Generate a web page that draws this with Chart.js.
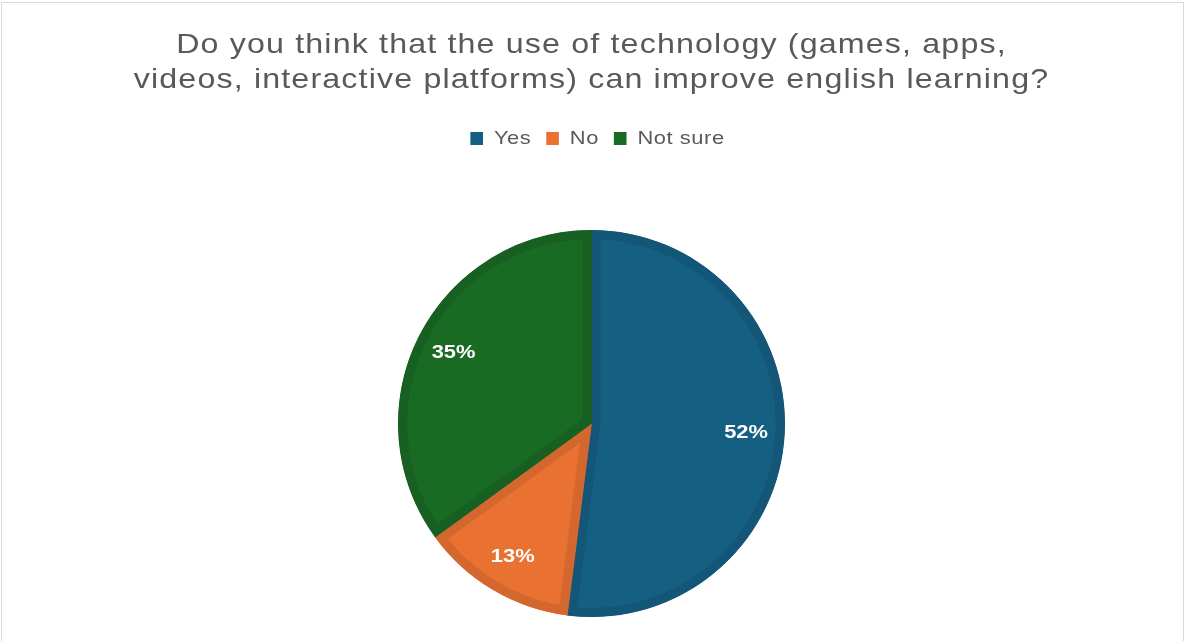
<!DOCTYPE html>
<html>
<head>
<meta charset="utf-8">
<script src="https://cdn.jsdelivr.net/npm/chart.js@4/dist/chart.umd.min.js"></script>
<style>
    html, body { margin: 0; padding: 0; background: #ffffff; }
    #wrap { position: relative; width: 1188px; height: 641px; overflow: hidden; }
    #frame { position: absolute; left: 1px; top: 2px; width: 1183px; height: 700px; border: 1px solid #d9d9d9; box-sizing: border-box; pointer-events: none; }
    canvas { position: absolute; left: 0; top: 0; }
</style>
</head>
<body>
<div id="wrap">
    <canvas id="pieChart" width="1188" height="641"></canvas>
    <div id="frame"></div>
</div>
<script>
// Chart data
const categories = ['Yes', 'No', 'Not sure'];
const shares = [52, 13, 35];
const sliceColors = ['#156082', '#E97132', '#196B24'];
const sliceBorders = ['#135677', '#D4672D', '#176021'];
const titleLines = [
    'Do you think that the use of technology (games, apps,',
    'videos, interactive platforms) can improve english learning?'
];

const FONT = '"Liberation Sans", Arial, sans-serif';
// the original font is a bit wider than Liberation Sans, so stretch text sideways
const STRETCH = 1.15;

// Draws the percentage labels inside each slice
const sliceLabels = {
    id: 'sliceLabels',
    afterDatasetsDraw(chart) {
        const ctx = chart.ctx;
        const meta = chart.getDatasetMeta(0);
        ctx.font = 'bold 19px ' + FONT;
        ctx.fillStyle = '#ffffff';
        ctx.textAlign = 'center';
        ctx.textBaseline = 'middle';
        meta.data.forEach((arc, i) => {
            const mid = (arc.startAngle + arc.endAngle) / 2;
            const r = arc.outerRadius * 0.8;
            const x = arc.x + Math.cos(mid) * r;
            const y = arc.y + Math.sin(mid) * r;
            ctx.save();
            ctx.translate(x, y);
            ctx.scale(STRETCH, 1);
            ctx.fillText(shares[i] + '%', 0, 0);
            ctx.restore();
        });
    }
};

// Wraps a box method: letter spacing while it runs, and for draw a sideways stretch
function wrapText(box, name, spacing, shiftX) {
    const orig = box[name];
    box[name] = function(...args) {
        const ctx = this.ctx;
        const prev = ctx.letterSpacing;
        ctx.save();
        ctx.letterSpacing = spacing;
        if (name === 'draw') {
            const cx = (this.left + this.right) / 2;
            ctx.translate(cx + shiftX, 0);
            ctx.scale(STRETCH, 1);
            ctx.translate(-cx, 0);
        }
        const res = orig.apply(this, args);
        ctx.restore();
        ctx.letterSpacing = prev;
        return res;
    };
}

// Tweaks for title / legend text, plus empty room under the legend
const boxTweaks = {
    id: 'boxTweaks',
    beforeLayout(chart) {
        const legend = chart.legend;
        if (legend && !legend._patched) {
            const fit = legend.fit;
            legend.fit = function() {
                fit.call(this);
                this.height += 72;
            };
            wrapText(legend, 'fit', '0.5px', 0);
            wrapText(legend, 'draw', '0.5px', 6);
            legend._patched = true;
        }
        const title = chart.titleBlock;
        if (title && !title._patched) {
            wrapText(title, 'draw', '1px', 0);
            title._patched = true;
        }
    }
};

const chart = new Chart(document.getElementById('pieChart'), {
    type: 'pie',
    data: {
        labels: categories,
        datasets: [{
            data: shares,
            backgroundColor: sliceColors,
            borderColor: sliceBorders,
            borderWidth: 9,
            borderAlign: 'inner'
        }]
    },
    options: {
        responsive: false,
        animation: false,
        layout: {
            padding: { top: 0, bottom: 24, left: 0, right: 5 }
        },
        plugins: {
            title: {
                display: true,
                text: titleLines,
                color: '#595959',
                font: { family: FONT, size: 28, weight: 'normal', lineHeight: 1.25 },
                padding: { top: 28, bottom: 18 }
            },
            legend: {
                display: true,
                position: 'top',
                labels: {
                    color: '#595959',
                    font: { family: FONT, size: 19 },
                    boxWidth: 11,
                    boxHeight: 13,
                    padding: 13,
                    generateLabels(chart) {
                        const base = Chart.overrides.pie.plugins.legend.labels.generateLabels(chart);
                        return base.map(item => ({ ...item, lineWidth: 0, strokeStyle: item.fillStyle }));
                    }
                }
            },
            tooltip: { enabled: false }
        }
    },
    plugins: [sliceLabels, boxTweaks]
});
</script>
</body>
</html>
